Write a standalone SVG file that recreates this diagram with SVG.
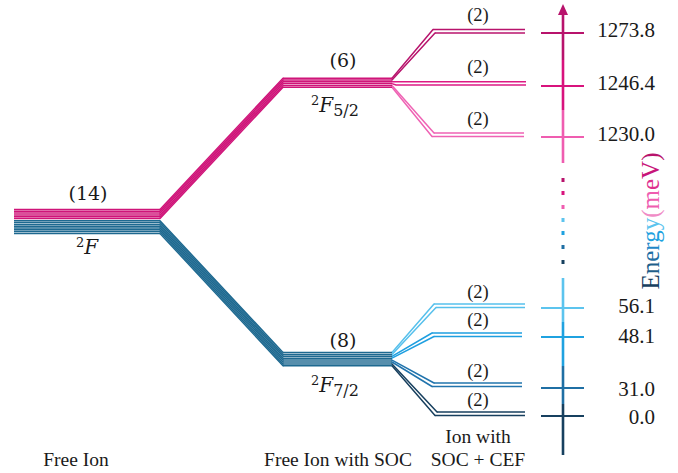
<svg xmlns="http://www.w3.org/2000/svg" width="678" height="473" viewBox="0 0 678 473">
<style>
.t{font-family:"Liberation Serif","Times New Roman",serif;fill:#1a1a1a}
.c{font-family:"DejaVu Serif","Liberation Serif",serif;fill:#1a1a1a}
.ln{fill:none;stroke-width:1.5}
.dg{fill:none;stroke-width:1.5;stroke-linecap:round}
.pk{stroke:#cf1479}
.bl{stroke:#1e6990}
.p1{stroke:#b8136c}.p2{stroke:#dd1a84}.p3{stroke:#ef62b4}
.b1{stroke:#56c0ec}.b2{stroke:#1e9fe0}.b3{stroke:#2174ad}.b4{stroke:#173f5e}
.ax{stroke-width:2.6;fill:none}
.tk{stroke-width:2.2}
</style>
<rect width="678" height="473" fill="#ffffff"/>

<g id="connectors">
  <g class="dg pk">
    <line x1="160" y1="209.5" x2="283" y2="78.2"/>
    <line x1="160" y1="211.3" x2="283" y2="80"/>
    <line x1="160" y1="213.1" x2="283" y2="81.8"/>
    <line x1="160" y1="214.9" x2="283" y2="83.6"/>
    <line x1="160" y1="216.7" x2="283" y2="85.4"/>
    <line x1="160" y1="218.5" x2="283" y2="87.2"/>
  </g>
  <g class="dg bl">
    <line x1="160" y1="220.8" x2="283" y2="352.5"/>
    <line x1="160" y1="222.6" x2="283" y2="354.4"/>
    <line x1="160" y1="224.4" x2="283" y2="356.3"/>
    <line x1="160" y1="226.2" x2="283" y2="358.2"/>
    <line x1="160" y1="228" x2="283" y2="360.1"/>
    <line x1="160" y1="229.8" x2="283" y2="362"/>
    <line x1="160" y1="231.6" x2="283" y2="363.9"/>
    <line x1="160" y1="233.4" x2="283" y2="365.8"/>
  </g>
  <line class="dg p1" x1="392" y1="78.2" x2="433" y2="29.5"/>
  <line class="dg p1" x1="392" y1="80" x2="435" y2="33"/>
  <polyline class="ln p2" points="392,81.8 526,81.8"/>
  <polyline class="ln p2" points="392,83.6 396,85 400,85"/>
  <line class="dg p3" x1="392" y1="85.4" x2="434" y2="133"/>
  <line class="dg p3" x1="392" y1="87.2" x2="432" y2="136.5"/>
  <line class="dg b1" x1="392" y1="352.5" x2="434" y2="304"/>
  <line class="dg b1" x1="392" y1="354.4" x2="436" y2="307.5"/>
  <line class="dg b2" x1="392" y1="356.3" x2="432" y2="333"/>
  <line class="dg b2" x1="392" y1="358.2" x2="434" y2="336.5"/>
  <line class="dg b3" x1="392" y1="360.1" x2="434" y2="383"/>
  <line class="dg b3" x1="392" y1="362" x2="432" y2="386.5"/>
  <line class="dg b4" x1="392" y1="363.9" x2="437" y2="412"/>
  <line class="dg b4" x1="392" y1="365.8" x2="435" y2="415.5"/>
</g>

<g id="free-ion">
  <g class="ln pk">
    <line x1="14" y1="209.5" x2="160" y2="209.5"/>
    <line x1="14" y1="211.3" x2="160" y2="211.3"/>
    <line x1="14" y1="213.1" x2="160" y2="213.1"/>
    <line x1="14" y1="214.9" x2="160" y2="214.9"/>
    <line x1="14" y1="216.7" x2="160" y2="216.7"/>
    <line x1="14" y1="218.5" x2="160" y2="218.5"/>
  </g>
  <g class="ln bl">
    <line x1="14" y1="220.8" x2="160" y2="220.8"/>
    <line x1="14" y1="222.6" x2="160" y2="222.6"/>
    <line x1="14" y1="224.4" x2="160" y2="224.4"/>
    <line x1="14" y1="226.2" x2="160" y2="226.2"/>
    <line x1="14" y1="228" x2="160" y2="228"/>
    <line x1="14" y1="229.8" x2="160" y2="229.8"/>
    <line x1="14" y1="231.6" x2="160" y2="231.6"/>
    <line x1="14" y1="233.4" x2="160" y2="233.4"/>
  </g>
  <text class="c" x="88" y="200" font-size="19" text-anchor="middle">(14)</text>
  <text class="c" x="87" y="254" font-size="20" text-anchor="middle"><tspan font-size="13" dy="-7">2</tspan><tspan font-style="italic" dy="7">F</tspan></text>
  <text class="t" x="76" y="466" font-size="19.5" text-anchor="middle">Free Ion</text>
</g>

<g id="soc-5-2">
  <g class="ln pk">
    <line x1="283" y1="78.2" x2="392" y2="78.2"/>
    <line x1="283" y1="80" x2="392" y2="80"/>
    <line x1="283" y1="81.8" x2="392" y2="81.8"/>
    <line x1="283" y1="83.6" x2="392" y2="83.6"/>
    <line x1="283" y1="85.4" x2="392" y2="85.4"/>
    <line x1="283" y1="87.2" x2="392" y2="87.2"/>
  </g>
  <text class="c" x="343" y="67" font-size="19" text-anchor="middle">(6)</text>
  <text class="c" x="311" y="112" font-size="20"><tspan font-size="13" dy="-7">2</tspan><tspan font-style="italic" dy="7">F</tspan><tspan font-size="16" dy="4">5/2</tspan></text>
</g>

<g id="soc-7-2">
  <g class="ln bl">
    <line x1="283" y1="352.5" x2="392" y2="352.5"/>
    <line x1="283" y1="354.4" x2="392" y2="354.4"/>
    <line x1="283" y1="356.3" x2="392" y2="356.3"/>
    <line x1="283" y1="358.2" x2="392" y2="358.2"/>
    <line x1="283" y1="360.1" x2="392" y2="360.1"/>
    <line x1="283" y1="362" x2="392" y2="362"/>
    <line x1="283" y1="363.9" x2="392" y2="363.9"/>
    <line x1="283" y1="365.8" x2="392" y2="365.8"/>
  </g>
  <text class="c" x="343" y="347" font-size="19" text-anchor="middle">(8)</text>
  <text class="c" x="311" y="392" font-size="20"><tspan font-size="13" dy="-7">2</tspan><tspan font-style="italic" dy="7">F</tspan><tspan font-size="16" dy="4">7/2</tspan></text>
  <text class="t" x="338" y="466" font-size="19.5" text-anchor="middle">Free Ion with SOC</text>
</g>

<g id="level-1273">
  <line class="ln p1" x1="433" y1="29.5" x2="525" y2="29.5"/>
  <line class="ln p1" x1="435" y1="33" x2="525" y2="33"/>
  <text class="t" x="478" y="21" font-size="18.5" text-anchor="middle">(2)</text>
</g>
<g id="level-1246">
  <line class="ln p2" x1="400" y1="85" x2="526" y2="85"/>
  <text class="t" x="478" y="73" font-size="18.5" text-anchor="middle">(2)</text>
</g>
<g id="level-1230">
  <line class="ln p3" x1="434" y1="133" x2="524" y2="133"/>
  <line class="ln p3" x1="432" y1="136.5" x2="524" y2="136.5"/>
  <text class="t" x="478" y="125" font-size="18.5" text-anchor="middle">(2)</text>
</g>
<g id="level-56">
  <line class="ln b1" x1="434" y1="304" x2="525" y2="304"/>
  <line class="ln b1" x1="436" y1="307.5" x2="525" y2="307.5"/>
  <text class="t" x="478" y="298" font-size="18.5" text-anchor="middle">(2)</text>
</g>
<g id="level-48">
  <line class="ln b2" x1="432" y1="333" x2="522" y2="333"/>
  <line class="ln b2" x1="434" y1="336.5" x2="522" y2="336.5"/>
  <text class="t" x="478" y="326" font-size="18.5" text-anchor="middle">(2)</text>
</g>
<g id="level-31">
  <line class="ln b3" x1="434" y1="383" x2="522" y2="383"/>
  <line class="ln b3" x1="432" y1="386.5" x2="522" y2="386.5"/>
  <text class="t" x="478" y="377" font-size="18.5" text-anchor="middle">(2)</text>
</g>
<g id="level-0">
  <line class="ln b4" x1="437" y1="412" x2="525" y2="412"/>
  <line class="ln b4" x1="435" y1="415.5" x2="525" y2="415.5"/>
  <text class="t" x="478" y="406" font-size="18.5" text-anchor="middle">(2)</text>
  <text class="t" x="478" y="443" font-size="19.5" text-anchor="middle">Ion with</text>
  <text class="t" x="478" y="466" font-size="19.5" text-anchor="middle">SOC + CEF</text>
</g>

<g id="energy-axis">
  <line class="ax" x1="563" y1="12" x2="563" y2="60" stroke="#b8136c"/>
  <line class="ax" x1="563" y1="60" x2="563" y2="110" stroke="#d8137d"/>
  <line class="ax" x1="563" y1="110" x2="563" y2="163" stroke="#ef5db0"/>
  <polygon points="563,4 558,15 568,15" fill="#b8136c"/>
  <rect x="561.5" y="178" width="3" height="4" fill="#b8136c"/>
  <rect x="561.5" y="191" width="3" height="4" fill="#d8137d"/>
  <rect x="561.5" y="205" width="3" height="4" fill="#ef5db0"/>
  <rect x="561.5" y="218" width="3" height="4" fill="#5cc4ee"/>
  <rect x="561.5" y="231" width="3" height="4" fill="#1fa2e0"/>
  <rect x="561.5" y="245" width="3" height="4" fill="#1f6fa4"/>
  <rect x="561.5" y="260" width="3" height="4" fill="#17405f"/>
  <line class="ax" x1="563" y1="278" x2="563" y2="322" stroke="#5cc4ee"/>
  <line class="ax" x1="563" y1="322" x2="563" y2="366" stroke="#1fa2e0"/>
  <line class="ax" x1="563" y1="366" x2="563" y2="404" stroke="#1f6fa4"/>
  <line class="ax" x1="563" y1="404" x2="563" y2="455" stroke="#17405f"/>
  <line class="tk" x1="541" y1="33" x2="584" y2="33" stroke="#b8136c"/>
  <line class="tk" x1="541" y1="86" x2="584" y2="86" stroke="#d8137d"/>
  <line class="tk" x1="541" y1="137" x2="584" y2="137" stroke="#ef5db0"/>
  <line class="tk" x1="541" y1="308" x2="584" y2="308" stroke="#5cc4ee"/>
  <line class="tk" x1="541" y1="337" x2="584" y2="337" stroke="#1fa2e0"/>
  <line class="tk" x1="541" y1="388" x2="584" y2="388" stroke="#1f6fa4"/>
  <line class="tk" x1="541" y1="416" x2="584" y2="416" stroke="#17405f"/>
  <g class="t" font-size="21" text-anchor="end">
    <text x="655" y="37">1273.8</text>
    <text x="655" y="90">1246.4</text>
    <text x="655" y="141">1230.0</text>
    <text x="655" y="313">56.1</text>
    <text x="655" y="343">48.1</text>
    <text x="655" y="396">31.0</text>
    <text x="655" y="424">0.0</text>
  </g>
  <text class="t" x="0" y="0" font-size="25" text-anchor="middle" transform="translate(659,221) rotate(-90)"><tspan fill="#17405f">E</tspan><tspan fill="#1f5f8a">n</tspan><tspan fill="#1f6fa4">e</tspan><tspan fill="#1f88c8">r</tspan><tspan fill="#1fa2e0">g</tspan><tspan fill="#5cc4ee">y</tspan><tspan fill="#f08cc6">(</tspan><tspan fill="#ef5db0">m</tspan><tspan fill="#e0308e">e</tspan><tspan fill="#c8157a">V</tspan><tspan fill="#b8136c">)</tspan></text>
</g>
</svg>
